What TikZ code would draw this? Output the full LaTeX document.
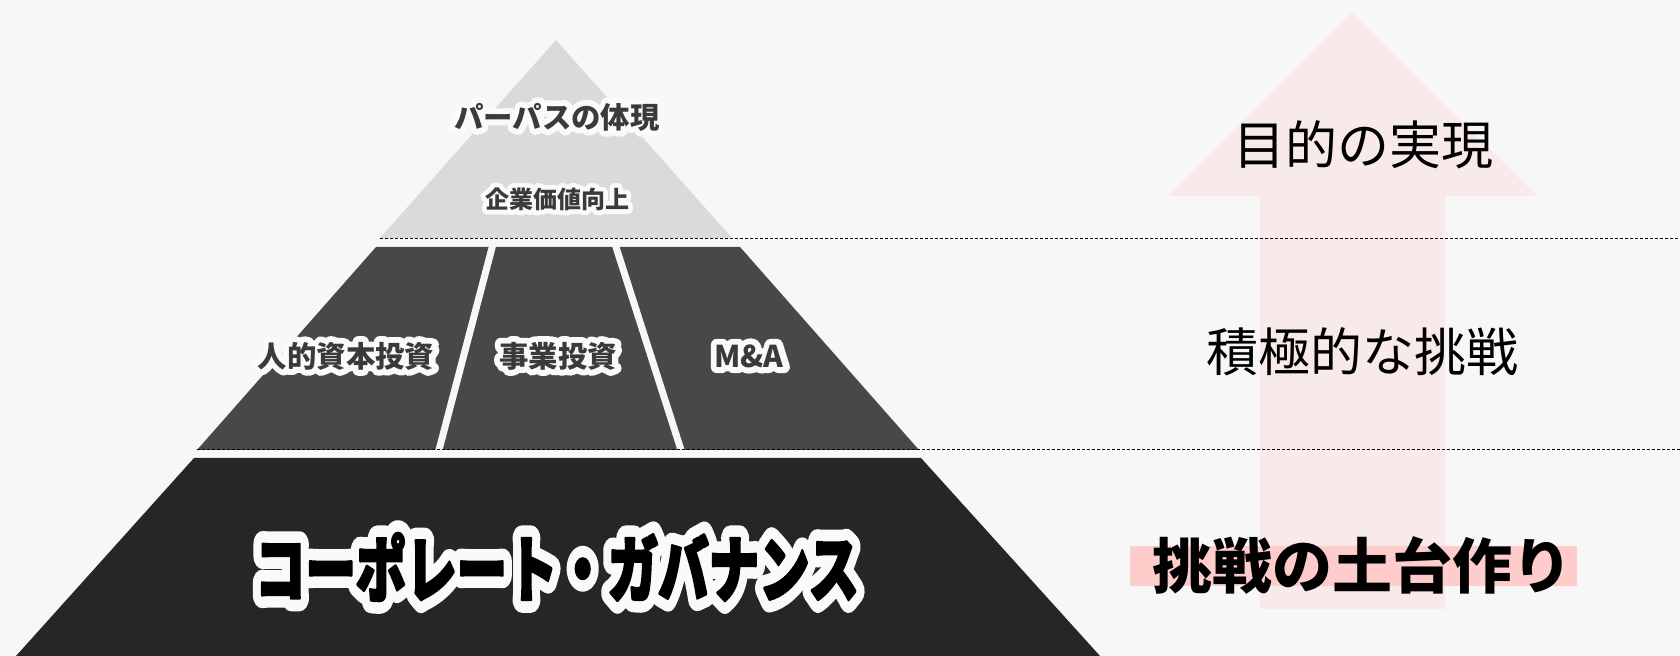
\documentclass[tikz,border=0pt]{standalone}
\usepackage{fontspec}
\usepackage{graphicx}
\newfontfamily\jp{Noto Sans CJK JP}
\newfontfamily\jphalo{Noto Sans CJK JP}[BoldFeatures={FakeBold=40}]
\newfontfamily\jphalobig{Noto Sans CJK JP}[BoldFeatures={FakeBold=36}]
\newfontfamily\jpheavy{Noto Sans CJK JP}[BoldFeatures={FakeBold=4}]
\definecolor{bg}{RGB}{247,247,247}
\definecolor{toplayer}{RGB}{218,218,218}
\definecolor{midlayer}{RGB}{72,72,72}
\definecolor{baselayer}{RGB}{38,38,38}
\definecolor{arrowpink}{RGB}{249,234,234}
\definecolor{markpink}{RGB}{255,204,204}
\definecolor{labelgrey}{RGB}{58,58,58}
\definecolor{halowhite}{RGB}{250,250,250}
% #1 halo font, #2 text font, #3 text colour, #4 text
\newcommand\halolabel[4]{\rlap{#1\color{halowhite}#4}{#2\color{#3}#4}}
\tikzset{
  guide/.style={draw=black, line width=0.5pt, dash pattern=on 1.5pt off 1pt},
  divider/.style={draw=bg, line width=3.5pt},
  rightlabel/.style={inner sep=0pt, text=black, font=\jp\fontsize{26}{30}\selectfont},
  pyrlabel/.style={inner sep=0pt},
}
\begin{document}
\begin{tikzpicture}[x=0.5pt, y=-0.5pt, line join=round]
\useasboundingbox (0,0) rectangle (1680,656);
\fill[bg] (0,0) rectangle (1680,656);
% upward arrow
\fill[arrowpink] (1352,12) -- (1537,196) -- (1445,196) -- (1445,609) -- (1260,609) -- (1260,196) -- (1168,196) -- cycle;
% highlight marker
\fill[markpink] (1130,546) rectangle (1577,586);
% pyramid
\fill[toplayer] (556,40) -- (732,238) -- (380,238) -- cycle;
\fill[midlayer] (376,247) -- (740,247) -- (919,450) -- (197,450) -- cycle;
\fill[baselayer] (194,458) -- (921,458) -- (1100,656) -- (16,656) -- cycle;
\coordinate (d1t) at (493,244); \coordinate (d1b) at (438.2,453);
\coordinate (d2t) at (615,244); \coordinate (d2b) at (682,453);
\draw[divider] (d1t) -- (d1b);
\draw[divider] (d2t) -- (d2b);
% guide lines
\coordinate (g1a) at (380,239); \coordinate (g1b) at (1680,239);
\coordinate (g2a) at (197,450); \coordinate (g2b) at (1680,450);
\draw[guide] (g1a) -- (g1b);
\draw[guide] (g2a) -- (g2b);
% pyramid labels
\node[pyrlabel] (purpose) at (557,117) {\halolabel{\jphalo\bfseries\fontsize{14.7}{17}\selectfont}{\jp\bfseries\fontsize{14.7}{17}\selectfont}{labelgrey}{パーパスの体現}};
\node[pyrlabel] (value) at (557,199) {\halolabel{\jphalo\bfseries\fontsize{12}{14}\selectfont}{\jp\bfseries\fontsize{12}{14}\selectfont}{labelgrey}{企業価値向上}};
\node[pyrlabel] (human) at (346,356) {\halolabel{\jphalo\bfseries\fontsize{14.7}{17}\selectfont}{\jp\bfseries\fontsize{14.7}{17}\selectfont}{labelgrey}{人的資本投資}};
\node[pyrlabel] (business) at (558,356) {\halolabel{\jphalo\bfseries\fontsize{14.7}{17}\selectfont}{\jp\bfseries\fontsize{14.7}{17}\selectfont}{labelgrey}{事業投資}};
\node[pyrlabel] (ma) at (749,356) {\halolabel{\jphalo\bfseries\fontsize{15}{17}\selectfont}{\jp\bfseries\fontsize{15}{17}\selectfont}{labelgrey}{M\&A}};
\node[pyrlabel] (gov) at (557,567) {\scalebox{0.7}[1]{\halolabel{\jphalobig\bfseries\fontsize{36}{40}\selectfont}{\jpheavy\bfseries\fontsize{36}{40}\selectfont}{black}{コーポレート・ガバナンス}}};
% right-side labels
\node[rightlabel] (goal) at (1363,145) {目的の実現};
\node[rightlabel] (challenge) at (1362,352) {積極的な挑戦};
\node[rightlabel, font=\jp\bfseries\fontsize{30}{34}\selectfont] (found) at (1362,565) {挑戦の土台作り};
\end{tikzpicture}
\end{document}
